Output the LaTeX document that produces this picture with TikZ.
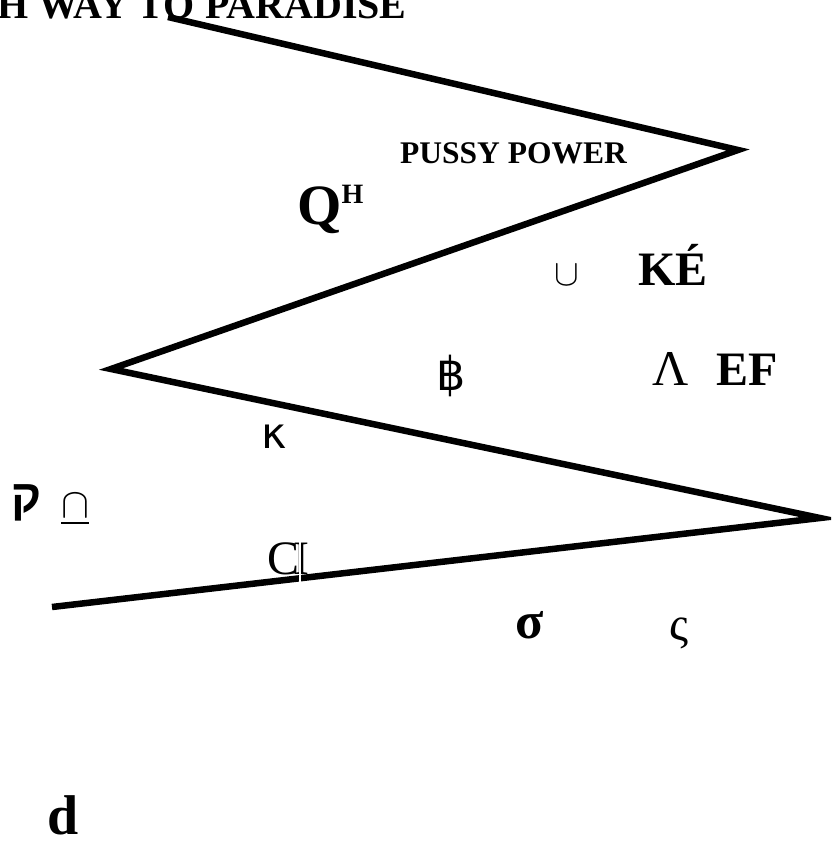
\documentclass[tikz,border=0pt]{standalone}
\usepackage{fontspec}
\setmainfont{Liberation Serif}
\newfontfamily\djv{DejaVu Sans}
\newfontfamily\hebfont[Script=Hebrew]{Liberation Sans}
\begin{document}
\begin{tikzpicture}[x=1pt,y=-1pt,
  zig/.style={line width=6.5pt,line join=miter,miter limit=20},
  bt/.style={font=\bfseries,inner sep=0pt,anchor=base west},
  rt/.style={inner sep=0pt,anchor=base west}]
\useasboundingbox (0,0) rectangle (831,854);
\clip (0,0) rectangle (831,854);
% title (cut off at top, as in the reference)
\node[bt,font=\fontsize{40}{40}\selectfont\bfseries] (title) at (-3,18) {H WAY TO PARADISE};
% zigzag
\coordinate (z0) at (168,17);
\coordinate (z1) at (738,150);
\coordinate (z2) at (111,369);
\coordinate (z3) at (820,518);
\coordinate (z4) at (52,607);
\draw[zig] (z0) -- (z1) -- (z2) -- (z3) -- (z4);
% labels
\node[bt,font=\fontsize{31.5}{31.5}\selectfont\bfseries] (pp) at (400,163) {PUSSY POWER};
\node[bt,font=\fontsize{57}{57}\selectfont\bfseries] (q) at (297,224) {Q\raisebox{0.36em}{\fontsize{28}{28}\selectfont H}};
\node[rt] (cup) at (554,285) {\scalebox{3.7}{$\cup$}};
\node[bt,font=\fontsize{48}{48}\selectfont\bfseries] (ke) at (638,285) {KÉ};
\node[rt,font=\fontsize{46}{46}\selectfont\djv] (baht) at (436,390) {฿};
\node[rt,font=\fontsize{50}{50}\selectfont] (lam) at (652,385) {Λ};
\node[bt,font=\fontsize{48}{48}\selectfont\bfseries] (ef) at (716,385) {EF};
\node[rt,font=\fontsize{43}{43}\selectfont\djv] (kap) at (261,448) {κ};
\node[rt,font=\fontsize{46}{46}\selectfont\hebfont\bfseries] (qof) at (11,512) {ק};
\node[rt] (cap) at (61,517) {\scalebox{4.2}{$\underline{\cap}$}};
\node[rt,font=\fontsize{48}{48}\selectfont] (cc) at (267,574) {C\kern-0.12em I};
\draw[white,line width=1.8pt] ([xshift=-9.5pt,yshift=5pt]cc.north east) -- ([xshift=-9.5pt,yshift=-7pt]cc.south east);
\node[bt,font=\fontsize{52}{52}\selectfont\bfseries] (sig) at (515,638) {σ};
\node[rt,font=\fontsize{48}{48}\selectfont] (fsig) at (669,640) {ς};
\node[bt,font=\fontsize{56}{56}\selectfont\bfseries] (d) at (47,834) {d};
\end{tikzpicture}
\end{document}
